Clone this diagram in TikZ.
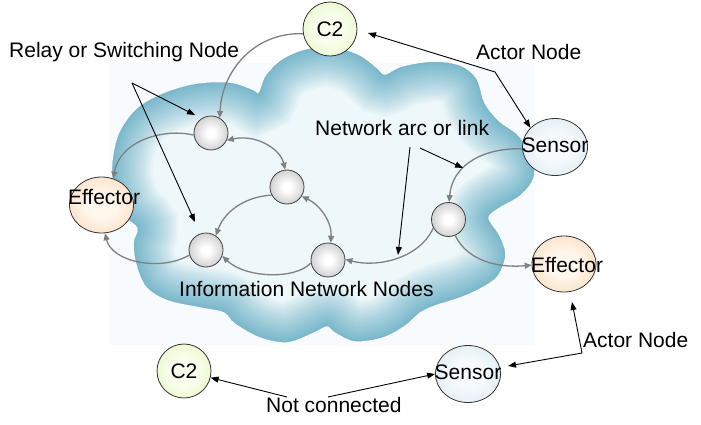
\documentclass[tikz,border=0pt]{standalone}
\usepackage{fontspec}
\setmainfont{Liberation Sans}
\usetikzlibrary{arrows.meta,shapes.geometric}
\definecolor{cloudedge}{RGB}{100,176,200}
\definecolor{cloudin}{RGB}{238,247,250}
\definecolor{bgfaint}{RGB}{247,251,253}
\definecolor{linkgray}{RGB}{128,128,128}
\definecolor{relayin}{RGB}{255,255,255}
\definecolor{relayout}{RGB}{150,150,150}
\definecolor{ctwoin}{RGB}{250,255,238}
\definecolor{ctwoout}{RGB}{212,240,160}
\definecolor{effin}{RGB}{255,246,236}
\definecolor{effout}{RGB}{248,196,145}
\definecolor{sensin}{RGB}{246,250,252}
\definecolor{sensout}{RGB}{196,220,234}
\pgfdeclareradialshading{relayshade}{\pgfpoint{0bp}{0bp}}{color(0bp)=(relayin); color(6bp)=(relayin); color(50bp)=(relayout); color(72bp)=(relayout)}
\pgfdeclareradialshading{ctwoshade}{\pgfpoint{0bp}{0bp}}{color(0bp)=(ctwoin); color(12bp)=(ctwoin); color(50bp)=(ctwoout); color(72bp)=(ctwoout)}
\pgfdeclareradialshading{effshade}{\pgfpoint{0bp}{0bp}}{color(0bp)=(effin); color(12bp)=(effin); color(50bp)=(effout); color(72bp)=(effout)}
\pgfdeclareradialshading{sensshade}{\pgfpoint{0bp}{0bp}}{color(0bp)=(sensin); color(12bp)=(sensin); color(50bp)=(sensout); color(72bp)=(sensout)}
\newcommand\cloudpath{plot[smooth cycle, tension=0.55] coordinates {(114,-185) (113,-160) (120,-132) (138,-108) (165,-93) (197,-84) (230,-83) (252,-90) (259,-93) (266,-76) (282,-60) (305,-50) (330,-47) (358,-55) (376,-68) (385,-75) (402,-67) (433,-62) (460,-66) (476,-79) (484,-103) (498,-121) (518,-136) (532,-158) (533,-178) (520,-195) (498,-208) (488,-218) (499,-236) (505,-255) (497,-276) (480,-288) (460,-297) (435,-305) (420,-312) (405,-325) (383,-337) (355,-341) (335,-332) (327,-326) (312,-333) (287,-342) (260,-337) (235,-323) (224,-312) (200,-307) (168,-300) (147,-287) (137,-265) (134,-243) (138,-228) (125,-215)}}
\begin{document}
\begin{tikzpicture}[x=1pt,y=1pt,
  every node/.style={font=\fontsize{21pt}{25pt}\selectfont, inner sep=0pt},
  relay/.style={circle, draw=black!75, line width=0.8pt, minimum size=34pt, shading=relayshade},
  ctwo/.style={circle, draw=black!80, line width=0.8pt, minimum size=54pt, shading=ctwoshade},
  effector/.style={ellipse, draw=black!80, line width=0.8pt, minimum width=64pt, minimum height=56pt, shading=effshade},
  sensor/.style={ellipse, draw=black!80, line width=0.8pt, minimum width=65pt, minimum height=57pt, shading=sensshade},
  link/.style={draw=linkgray, line width=1.3pt, -{Triangle[length=7pt,width=6pt]}},
  blink/.style={draw=linkgray, line width=1.3pt, {Triangle[length=7pt,width=6pt]}-{Triangle[length=7pt,width=6pt]}},
  pointer/.style={draw=black, line width=0.9pt, -{Triangle[length=8pt,width=6pt]}},
  bpointer/.style={draw=black, line width=0.9pt, {Triangle[length=8pt,width=6pt]}-{Triangle[length=8pt,width=6pt]}},
  txt/.style={anchor=base west, text=black}]
\useasboundingbox (0,0) rectangle (701,-425);
\fill[white] (0,0) rectangle (701,-425);
% faint clip-art background
\fill[bgfaint] (110,-63) rectangle (535,-345);
% cloud with soft inner glow
\begin{scope}
  \clip \cloudpath;
  \fill[cloudin] \cloudpath;
  \foreach \i in {30,29,...,1} {
    \pgfmathsetmacro\w{80*(\i/30)^1.6}
    \draw[cloudedge, line width=\w pt, opacity=0.055] \cloudpath;
  }
\end{scope}
% nodes
\node[ctwo, label={center:C2}] (C2t) at (330,-29) {};
\node[relay] (R1) at (211,-133) {};
\node[relay] (R2) at (287,-187) {};
\node[relay] (R3) at (206,-250) {};
\node[relay] (R4) at (328,-260) {};
\node[relay] (R5) at (448.5,-219.5) {};
\node[effector, label={[xshift=2.5pt,yshift=8pt]center:Effector}] (EL) at (101.5,-205) {};
\node[sensor, label={[yshift=2pt]center:Sensor}] (ST) at (555,-147) {};
\node[effector, label={[xshift=3pt,yshift=-1.5pt]center:Effector}] (ER) at (564,-264) {};
\node[sensor, label={[yshift=1.5pt]center:Sensor}] (SB) at (468,-374) {};
\node[ctwo, label={center:C2}] (C2b) at (184,-371) {};
% network links
\draw[link] (C2t.190) .. controls (255,-32) and (222,-70) .. (R1.60);
\draw[link] (R1.187) .. controls (165,-128) and (120,-140) .. (EL.66);
\draw[blink] (R1.-25) .. controls (255,-134) and (280,-148) .. (R2.96);
\draw[link] (R2.208) .. controls (250,-196) and (226,-208) .. (R3.56);
\draw[blink] (R2.-32) .. controls (320,-205) and (332,-222) .. (R4.81);
\draw[link] (R4.190) .. controls (295,-280) and (245,-278) .. (R3.-20);
\draw[link] (R3.197) .. controls (160,-272) and (112,-262) .. (EL.-83);
\draw[link] (R5.209) .. controls (420,-258) and (378,-268) .. (R4.2);
\draw[link] (ST.183) .. controls (478,-148) and (452,-168) .. (R5.88);
\draw[link] (R5.-67) .. controls (468,-262) and (500,-268) .. (ER.182);
% label pointers
\coordinate (RL) at (132,-83);
\coordinate (T1) at (195,-115);
\coordinate (T2) at (195,-222);
\draw[pointer] (RL) -- (T1);
\draw[pointer] (RL) -- (T2);
\coordinate (NL1) at (410,-147);
\coordinate (NL2) at (420,-148);
\coordinate (T3) at (398,-255);
\coordinate (T4) at (463,-168);
\draw[pointer] (NL1) -- (T3);
\draw[pointer] (NL2) -- (T4);
\coordinate (AT) at (368,-33);
\coordinate (AB) at (495,-72);
\draw[bpointer] (AT) -- (AB) -- (ST.142);
\coordinate (AB2) at (582,-353);
\coordinate (T5) at (572,-302);
\coordinate (T6) at (508,-366);
\draw[pointer] (AB2) -- (T5);
\draw[pointer] (AB2) -- (T6);
\coordinate (NC1) at (287,-397);
\coordinate (NC2) at (328,-397);
\draw[pointer] (NC1) -- (C2b);
\draw[pointer] (NC2) -- (SB.west);
% texts
\node[txt] (relaytxt) at (9,-57.5) {Relay or Switching Node};
\node[txt] (actortop) at (476,-60) {Actor Node};
\node[txt] (arctxt) at (315,-135.7) {Network arc or link};
\node[txt] (infotxt) at (179,-296.7) {Information Network Nodes};
\node[txt] (actorbot) at (583,-347.7) {Actor Node};
\node[txt] (nctxt) at (266,-412.7) {Not connected};
\end{tikzpicture}
\end{document}
